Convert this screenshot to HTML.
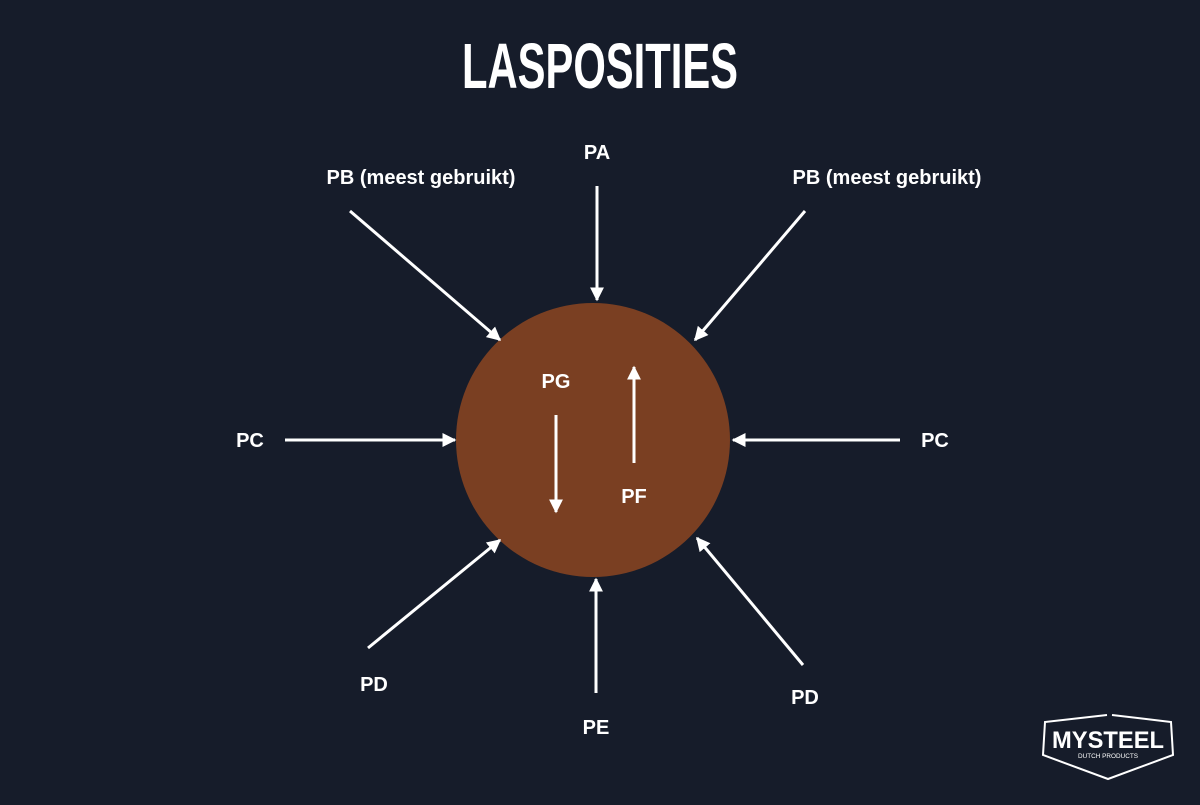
<!DOCTYPE html>
<html><head><style>
body{margin:0;width:1200px;height:800px;background:#161c2a;overflow:hidden;font-family:"Liberation Sans",sans-serif}
</style></head><body>
<svg width="1200" height="800" xmlns="http://www.w3.org/2000/svg">
<defs>
<marker id="h" viewBox="0 0 10 10" refX="9" refY="5" markerWidth="14" markerHeight="14" orient="auto" markerUnits="userSpaceOnUse"><path d="M0,0 L10,5 L0,10 Z" fill="#fff"/></marker></defs>
<rect width="1200" height="800" fill="#161c2a"/>
<text x="600" y="88" text-anchor="middle" fill="#fff" font-size="64" font-weight="bold" font-family="Liberation Sans Narrow, Liberation Sans, sans-serif" textLength="276" lengthAdjust="spacingAndGlyphs">LASPOSITIES</text>
<circle cx="593" cy="440" r="137" fill="#7a3f22"/>
<g stroke="#fff" stroke-width="3" marker-end="url(#h)" fill="none">
<line x1="597" y1="186" x2="597" y2="300"/>
<line x1="350" y1="211" x2="500" y2="340"/>
<line x1="805" y1="211" x2="695" y2="340"/>
<line x1="285" y1="440" x2="455" y2="440"/>
<line x1="900" y1="440" x2="733" y2="440"/>
<line x1="368" y1="648" x2="500" y2="540"/>
<line x1="803" y1="665" x2="697" y2="538"/>
<line x1="596" y1="693" x2="596" y2="579"/>
<line x1="556" y1="415" x2="556" y2="512"/>
<line x1="634" y1="463" x2="634" y2="367"/>
</g>
<g fill="#fff" font-size="20" font-weight="bold" text-anchor="middle">
<text x="597" y="159">PA</text>
<text x="421" y="184">PB (meest gebruikt)</text>
<text x="887" y="184">PB (meest gebruikt)</text>
<text x="250" y="447">PC</text>
<text x="935" y="447">PC</text>
<text x="374" y="691">PD</text>
<text x="805" y="704">PD</text>
<text x="596" y="734">PE</text>
<text x="556" y="388">PG</text>
<text x="634" y="503">PF</text>
</g>
<g stroke="#fff" stroke-width="2" fill="none">
<polyline points="1107,715 1045,722 1043,755 1108,779 1173,755 1171,722 1112,715"/>
</g>
<text x="1108" y="748" text-anchor="middle" fill="#fff" font-size="24" font-weight="bold" textLength="112" lengthAdjust="spacingAndGlyphs">MYSTEEL</text>
<text x="1108" y="758" text-anchor="middle" fill="#fff" font-size="6" textLength="60" lengthAdjust="spacingAndGlyphs">DUTCH PRODUCTS</text>
</svg>
</body></html>
